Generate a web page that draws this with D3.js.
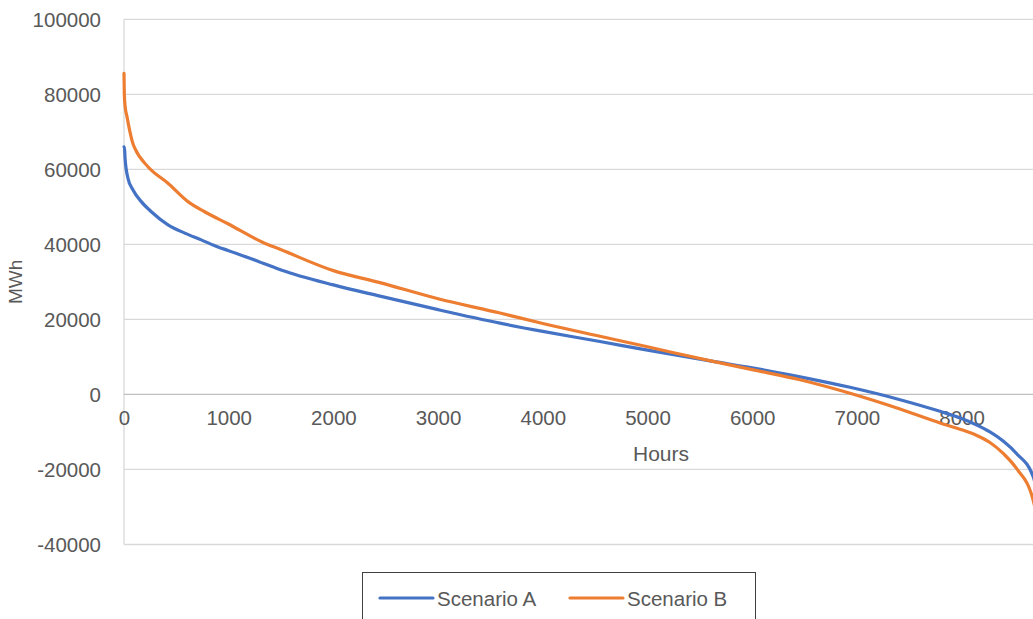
<!DOCTYPE html>
<html><head><meta charset="utf-8">
<script src="https://cdn.jsdelivr.net/npm/d3@7"></script>
<style>body{margin:0;background:#fff}svg{display:block}</style>
</head><body>
<svg id="c" width="1033" height="619"></svg>
<script>
const seriesNames = ["Scenario A", "Scenario B"];
const hoursA = [0,4,10,38,86,165,261,420,580,738,898,993,1328,1500,2000,2445,3000,3591,4000,4546,5000,5626,6000,6457,6934,7412,7794,8000,8150,8271,8400,8526,8682,8760];
const valuesA = [66000,66000,63000,57600,54500,51400,48700,45200,43000,41200,39300,38400,35000,33200,29200,26200,22600,19000,16800,14100,11800,8800,7100,4700,1900,-1400,-4500,-6400,-8200,-10000,-12500,-15800,-21800,-30000];
const hoursB = [0,3,10,29,57,86,105,229,420,611,770,993,1328,1490,2000,2445,3000,3591,4000,4546,5000,5626,6000,6457,6934,7412,7794,8000,8150,8271,8400,8526,8682,8760];
const valuesB = [85600,80000,77000,74000,70000,66800,65500,60700,56300,51400,48700,45500,40500,38700,33000,29800,25500,21700,18900,15500,12700,8800,6600,3900,300,-3900,-7600,-9400,-11000,-12800,-15800,-19800,-28000,-39000];
const xTicks = [0,1000,2000,3000,4000,5000,6000,7000,8000];
const yTicks = [-40000,-20000,0,20000,40000,60000,80000,100000];
const colors = ["#4472C4", "#ED7D31"];

const svg = d3.select("#c");
const font = "'Liberation Sans', Arial, sans-serif";
const textColor = "#595959";
const fmt = d => String(d);

const x = d3.scaleLinear().domain([0, 10000]).range([124, 1171]);
const y = d3.scaleLinear().domain([-40000, 100000]).range([544.5, 19.3]);

// gridlines
svg.append("g").selectAll("line").data(yTicks.filter(d => d !== 0)).join("line")
  .attr("x1", x(0)).attr("x2", 1033)
  .attr("y1", d => y(d)).attr("y2", d => y(d))
  .attr("stroke", "#d9d9d9").attr("stroke-width", 1.3);

// y axis line
svg.append("line").attr("x1", x(0)).attr("x2", x(0))
  .attr("y1", y(100000)).attr("y2", y(-40000))
  .attr("stroke", "#d9d9d9").attr("stroke-width", 1.3);

// x axis line at zero
svg.append("line").attr("x1", x(0)).attr("x2", 1033)
  .attr("y1", y(0)).attr("y2", y(0))
  .attr("stroke", "#bfbfbf").attr("stroke-width", 1.3);

// y tick labels
const yAxis = d3.axisLeft(y).tickValues(yTicks).tickSize(0).tickPadding(0).tickFormat(fmt);
const gy = svg.append("g").attr("transform", "translate(101,0)").call(yAxis);
gy.select(".domain").remove();
gy.selectAll("text").attr("font-family", font).attr("font-size", 20.5).attr("fill", textColor).attr("dy", "0.35em");

// x tick labels
const xAxis = d3.axisBottom(x).tickValues(xTicks).tickSize(0).tickPadding(0).tickFormat(fmt);
const gx = svg.append("g").attr("transform", `translate(0,${y(0) + 31})`).call(xAxis);
gx.select(".domain").remove();
gx.selectAll("text").attr("font-family", font).attr("font-size", 20.5).attr("fill", textColor).attr("dy", "0").attr("y", 0);

// axis titles
svg.append("text").attr("x", 661).attr("y", 461).attr("text-anchor", "middle")
  .attr("font-family", font).attr("font-size", 21).attr("fill", textColor).text("Hours");
svg.append("text").attr("transform", `translate(22,${(y(100000) + y(-40000)) / 2}) rotate(-90)`)
  .attr("text-anchor", "middle")
  .attr("font-family", font).attr("font-size", 19).attr("fill", textColor).text("MWh");

// lines
const line = d3.line().x(d => x(d[0])).y(d => y(d[1])).curve(d3.curveMonotoneX);
const dataA = hoursA.map((h, i) => [h, valuesA[i]]);
const dataB = hoursB.map((h, i) => [h, valuesB[i]]);
[dataA, dataB].forEach((dat, i) => {
  svg.append("path").datum(dat).attr("d", line)
    .attr("fill", "none").attr("stroke", colors[i]).attr("stroke-width", 3.2)
    .attr("stroke-linejoin", "round").attr("stroke-linecap", "round");
});

// legend
const lg = svg.append("g");
lg.append("rect").attr("x", 362.5).attr("y", 572.5).attr("width", 393).attr("height", 60)
  .attr("fill", "#fff").attr("stroke", "#404040").attr("stroke-width", 1);
const lx = [380, 570];
seriesNames.forEach((n, i) => {
  lg.append("line").attr("x1", lx[i]).attr("x2", lx[i] + 53).attr("y1", 598).attr("y2", 598)
    .attr("stroke", colors[i]).attr("stroke-width", 3.2).attr("stroke-linecap", "round");
  lg.append("text").attr("x", lx[i] + 57).attr("y", 605.5)
    .attr("font-family", font).attr("font-size", 20.5).attr("fill", textColor).text(n);
});
</script>
</body></html>
